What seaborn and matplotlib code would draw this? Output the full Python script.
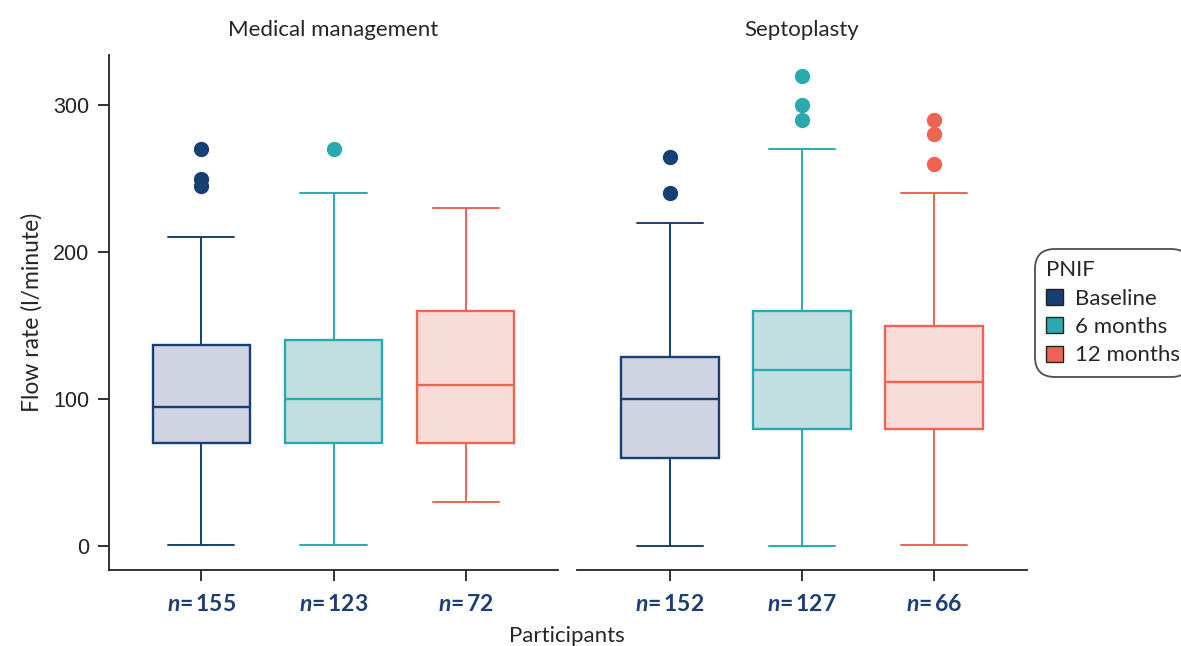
import matplotlib
matplotlib.use("Agg")
import matplotlib.pyplot as plt
import seaborn as sns
from matplotlib.patches import Patch

# Summary statistics (flow rate, l/minute)
panels = ["Medical management", "Septoplasty"]
timepoints = ["Baseline", "6 months", "12 months"]

mm_low = [1, 1, 30]
mm_q1 = [70, 70, 70]
mm_med = [95, 100, 110]
mm_q3 = [137, 140, 160]
mm_high = [210, 240, 230]
mm_fliers = [[270, 250, 245], [270], []]
mm_n = [155, 123, 72]

sp_low = [0, 0, 1]
sp_q1 = [60, 80, 80]
sp_med = [100, 120, 112]
sp_q3 = [129, 160, 150]
sp_high = [220, 270, 240]
sp_fliers = [[265, 240], [320, 300, 290], [290, 280, 260]]
sp_n = [152, 127, 66]

edge_colors = ["#173f73", "#2aaaae", "#ee6352"]
face_colors = ["#d0d3e2", "#c1dfe0", "#f8dcd8"]
label_color = "#1c3f73"

sns.set_theme(style="ticks")
plt.rcParams["font.family"] = ["Lato", "DejaVu Sans"]
plt.rcParams["mathtext.fontset"] = "custom"
plt.rcParams["mathtext.it"] = "Lato:italic:bold"
plt.rcParams["mathtext.rm"] = "Lato:bold"

fig = plt.figure(figsize=(11.81, 6.46), dpi=100)
ax_l = fig.add_axes([109 / 1181, 1 - 570 / 646, 449 / 1181, 515 / 646])
ax_r = fig.add_axes([577 / 1181, 1 - 570 / 646, 450 / 1181, 515 / 646], sharey=ax_l)

panel_data = [
    (ax_l, mm_low, mm_q1, mm_med, mm_q3, mm_high, mm_fliers, mm_n),
    (ax_r, sp_low, sp_q1, sp_med, sp_q3, sp_high, sp_fliers, sp_n),
]

for (ax, low, q1, med, q3, high, fliers, ns), title in zip(panel_data, panels):
    for i in range(3):
        stats = [{"whislo": low[i], "q1": q1[i], "med": med[i], "q3": q3[i],
                  "whishi": high[i], "fliers": fliers[i]}]
        c = edge_colors[i]
        ax.bxp(stats, positions=[i], widths=0.74, patch_artist=True,
               capwidths=0.5, manage_ticks=False,
               boxprops=dict(facecolor=face_colors[i], edgecolor=c, linewidth=1.7),
               medianprops=dict(color=c, linewidth=1.7),
               whiskerprops=dict(color=c, linewidth=1.4),
               capprops=dict(color=c, linewidth=1.4),
               flierprops=dict(marker="o", markersize=10, markerfacecolor=c,
                               markeredgecolor=c))
    ax.set_xlim(-0.7, 2.7)
    ax.set_xticks(range(3))
    ax.set_xticklabels([f"$n$=\u2009{n}" for n in ns], color=label_color,
                       fontsize=16.5, fontweight="bold")
    ax.set_title(title, fontsize=16, pad=14)
    ax.tick_params(axis="x", length=8, width=1.3, pad=9, colors="#222222",
                   labelcolor=label_color)
    for sp in ax.spines.values():
        sp.set_linewidth(1.3)
        sp.set_color("#222222")

ax_l.set_ylim(-16, 334)
ax_l.set_yticks([0, 100, 200, 300])
ax_l.tick_params(axis="y", length=8, width=1.3, pad=6, labelsize=15.5, colors="#222222")
for lab in ax_l.get_yticklabels():
    lab.set_fontfamily("Liberation Sans")
ax_l.set_ylabel("Flow rate (l/minute)", fontsize=16.5, labelpad=8)
sns.despine(ax=ax_l)
sns.despine(ax=ax_r, left=True)
ax_r.tick_params(axis="y", left=False, labelleft=False)

fig.text(567 / 1181, 1 - 636 / 646, "Participants", fontsize=16,
         ha="center", va="center")

handles = [Patch(facecolor=c, edgecolor="#222222", linewidth=1) for c in edge_colors]
leg = fig.legend(handles, timepoints, title="PNIF", loc="upper left",
                 bbox_to_anchor=(1035 / 1181, 1 - 249 / 646), fontsize=16,
                 title_fontsize=16, alignment="left", frameon=True, fancybox=True,
                 handlelength=0.75, handleheight=0.75, handletextpad=0.55,
                 labelspacing=0.38, borderpad=0.5, borderaxespad=0)
leg.get_frame().set_edgecolor("#222222")
leg.get_frame().set_linewidth(1.3)
leg.get_frame().set_boxstyle("round", pad=0, rounding_size=0.9)

fig.savefig("out.png", dpi=100)
